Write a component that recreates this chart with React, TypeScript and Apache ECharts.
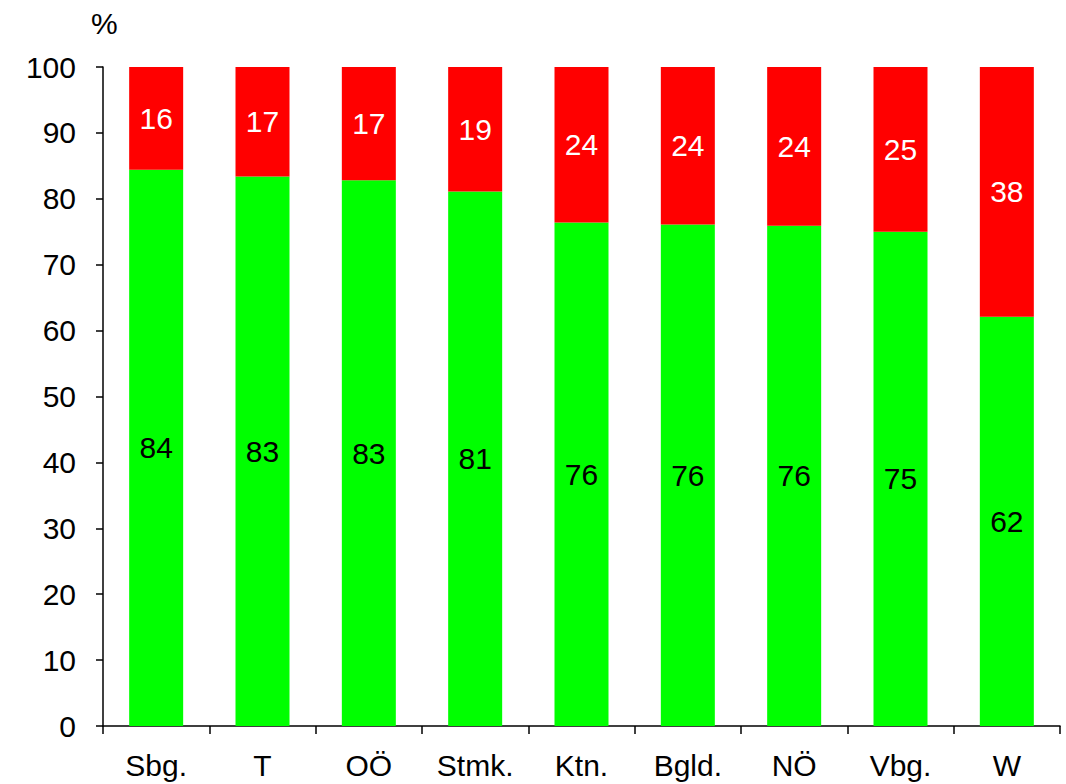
import React, { useEffect, useRef } from "react";
import * as echarts from "echarts";

const categories = ["Sbg.", "T", "OÖ", "Stmk.", "Ktn.", "Bgld.", "NÖ", "Vbg.", "W"];
const greenValues = [84.4, 83.4, 82.8, 81.1, 76.4, 76.1, 75.9, 75.0, 62.1];
const redValues = [15.6, 16.6, 17.2, 18.9, 23.6, 23.9, 24.1, 25.0, 37.9];
const yTicks = { min: 0, max: 100, interval: 10 };
const FONT = "'Liberation Sans', Arial, sans-serif";
const FS = 30;

export default function App() {
  const ref = useRef<HTMLDivElement>(null);
  useEffect(() => {
    document.body.style.margin = "0";
    const chart = echarts.init(ref.current!, null, { renderer: "svg" });
    chart.setOption({
      animation: false,
      textStyle: { fontFamily: FONT },
      grid: { left: 103, right: 6, top: 67, bottom: 58 },
      graphic: [
        {
          type: "text",
          left: 91,
          top: 8,
          style: { text: "%", fontSize: FS, fontFamily: FONT, fill: "#000" },
        },
      ],
      xAxis: {
        type: "category",
        data: categories,
        axisLine: { lineStyle: { color: "#000", width: 1.5 } },
        axisTick: { show: true, length: 8, lineStyle: { color: "#000", width: 1.5 } },
        axisLabel: { color: "#000", fontSize: FS, fontFamily: FONT, margin: 24 },
      },
      yAxis: {
        type: "value",
        min: yTicks.min,
        max: yTicks.max,
        interval: yTicks.interval,
        splitLine: { show: false },
        axisLine: { show: true, lineStyle: { color: "#000", width: 1.5 } },
        axisTick: { show: true, length: 7, lineStyle: { color: "#000", width: 1.5 } },
        axisLabel: { color: "#000", fontSize: FS, fontFamily: FONT, margin: 27 },
      },
      series: [
        {
          type: "bar",
          stack: "s",
          data: greenValues,
          barWidth: 54,
          itemStyle: { color: "#00FF00" },
          label: {
            show: true,
            position: "inside",
            color: "#000",
            fontSize: FS,
            fontFamily: FONT,
            formatter: (p: any) => String(Math.round(p.value)),
          },
        },
        {
          type: "bar",
          stack: "s",
          data: redValues,
          barWidth: 54,
          itemStyle: { color: "#FF0000" },
          label: {
            show: true,
            position: "inside",
            color: "#fff",
            fontSize: FS,
            fontFamily: FONT,
            formatter: (p: any) => String(Math.round(p.value)),
          },
        },
      ],
    });
    return () => chart.dispose();
  }, []);
  return <div ref={ref} style={{ width: 1066, height: 784 }} />;
}
